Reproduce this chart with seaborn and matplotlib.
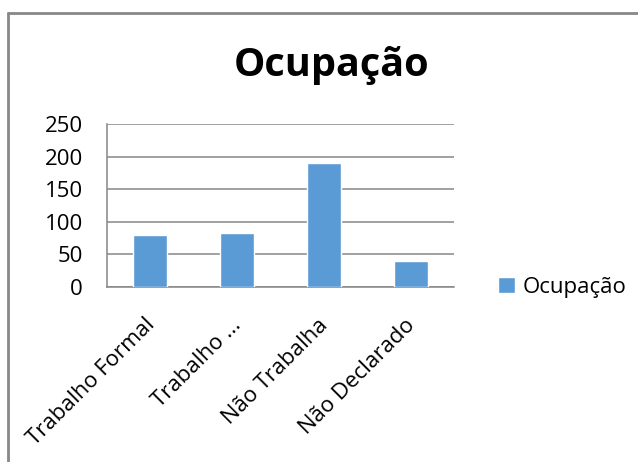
import matplotlib
matplotlib.use("Agg")
import matplotlib.pyplot as plt
import matplotlib.transforms as mtransforms
import seaborn as sns
import pandas as pd
from matplotlib.lines import Line2D

# Dados
categorias = ["Trabalho Formal", "Trabalho ...", "Não Trabalha", "Não Declarado"]
valores = [80, 83, 190, 40]
serie = "Ocupação"
yticks = [0, 50, 100, 150, 200, 250]

df = pd.DataFrame({"categoria": categorias, "valor": valores, "serie": [serie] * len(categorias)})

sns.set_theme(style="white")
plt.rcParams["font.family"] = ["Open Sans", "DejaVu Sans"]
plt.rcParams["text.color"] = "black"

fig = plt.figure(figsize=(6.38, 4.62), dpi=100)
ax = fig.add_axes([0.1672, 0.3794, 0.5444, 0.3516])

sns.barplot(data=df, x="categoria", y="valor", hue="serie", palette=["#5B9BD5"],
            width=0.39, saturation=1, ax=ax, zorder=3)

grid_color = "#868686"
ax.set_ylim(0, 250)
ax.set_yticks(yticks)
ax.set_xlim(-0.5, len(categorias) - 0.5)
ax.yaxis.grid(True, color=grid_color, linewidth=1.1, zorder=0)
ax.set_axisbelow(True)
for side in ["top", "right"]:
    ax.spines[side].set_visible(False)
for side in ["left", "bottom"]:
    ax.spines[side].set_color(grid_color)
    ax.spines[side].set_linewidth(1.1)

ax.tick_params(axis="y", length=6, width=1.1, color=grid_color, labelsize=16, pad=11, labelcolor="black")
ax.set_xticks(range(len(categorias)))
ax.set_xticks([i - 0.5 for i in range(len(categorias) + 1)], minor=True)
ax.tick_params(axis="x", which="major", length=0, pad=20, labelcolor="black")
ax.tick_params(axis="x", which="minor", length=6, width=1.1, color=grid_color, direction="out")
ax.set_xticklabels(categorias, rotation=45, ha="right", rotation_mode="anchor", fontsize=16)
shift = mtransforms.ScaledTranslation(-6 / 100, 0, fig.dpi_scale_trans)
for lbl in ax.get_xticklabels():
    lbl.set_transform(lbl.get_transform() + shift)
ax.set_xlabel("")
ax.set_ylabel("")

handles, labels = ax.get_legend_handles_labels()
ax.legend(handles, labels, loc="center left", bbox_to_anchor=(0.763, 0.378),
          bbox_transform=fig.transFigure, frameon=False, fontsize=16,
          handlelength=0.75, handleheight=0.75, handletextpad=0.35, borderpad=0)

fig.text(0.519, 0.859, "Ocupação", ha="center", va="center", fontsize=28.5, fontweight="bold")

# moldura do gráfico (só aparecem as bordas superior e esquerda)
fig.add_artist(Line2D([0.0125, 0.0125], [0, 0.972], transform=fig.transFigure, color="#888888", linewidth=2))
fig.add_artist(Line2D([0.0125, 1], [0.972, 0.972], transform=fig.transFigure, color="#888888", linewidth=2))

fig.savefig("out.png", dpi=100, facecolor="white")
